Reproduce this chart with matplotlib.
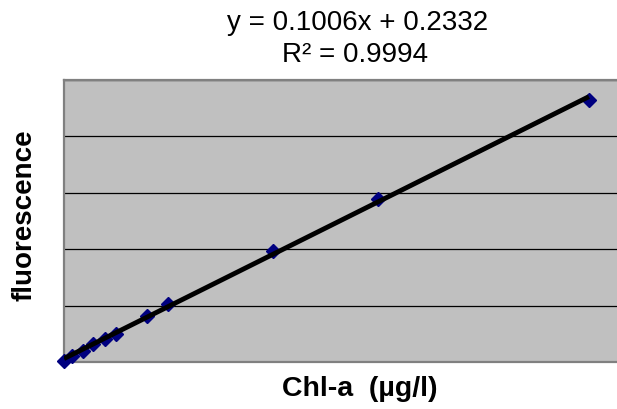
import numpy as np
import matplotlib.pyplot as plt

# valores (Chl-a vs fluorescencia)
chl_a = [0, 3.5, 8, 12.5, 17.5, 22, 35.5, 44.5, 89, 134, 224]
fluor = [0.1, 0.55, 1.0, 1.6, 2.05, 2.5, 4.1, 5.15, 9.85, 14.45, 23.2]
eq_text = "y = 0.1006x + 0.2332"
r2_text = "R\u00b2 = 0.9994"
x_label = "Chl-a  (\u00b5g/l)"
y_label = "fluorescence"

W, H = 617, 410
fig = plt.figure(figsize=(W / 100, H / 100), dpi=100)
ax = fig.add_axes([64 / W, (H - 363) / H, (W - 64) / W, (363 - 81) / H])
ax.set_facecolor("#c0c0c0")

# linea de tendencia (ajuste lineal)
coef = np.polyfit(chl_a, fluor, 1)
xx = np.array([min(chl_a), max(chl_a)])
ax.plot(xx, np.polyval(coef, xx), color="black", lw=3.5, zorder=4,
        solid_capstyle="butt")
ax.plot(chl_a, fluor, ls="none", marker="D", ms=7.5, color="#000080",
        zorder=3, clip_on=False)

ax.set_xlim(0, 236)
ax.set_ylim(0, 25)
ax.set_yticks(np.arange(0, 26, 5))
ax.set_xticks([])
ax.tick_params(length=0, labelleft=False)
ax.grid(axis="y", color="black", lw=0.9)
ax.set_axisbelow(True)
for s in ["left", "top", "bottom"]:
    ax.spines[s].set_color("#808080")
    ax.spines[s].set_linewidth(1.6)
ax.spines["right"].set_visible(False)

fig.text(358 / W, 1 - 23 / H, eq_text, ha="center", va="center",
         fontsize=20, family="Liberation Sans")
fig.text(355 / W, 1 - 55 / H, r2_text, ha="center", va="center",
         fontsize=20, family="Liberation Sans")
fig.text(360 / W, 1 - 389 / H, x_label, ha="center", va="center",
         fontsize=20.5, fontweight="bold", family="Liberation Sans")
fig.text(25 / W, 1 - 215 / H, y_label, ha="center", va="center",
         rotation=90, fontsize=20, fontweight="bold", family="Liberation Sans")

fig.savefig("out.png", dpi=100)
